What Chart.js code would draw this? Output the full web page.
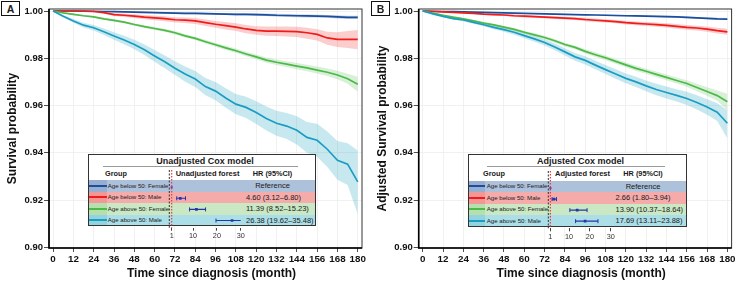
<!DOCTYPE html>
<html><head><meta charset="utf-8">
<script src="https://cdn.jsdelivr.net/npm/chart.js@4.4.1/dist/chart.umd.min.js"></script>
<style>
html,body{margin:0;padding:0;background:#fff;width:738px;height:281px;overflow:hidden;font-family:"Liberation Sans",Arial,sans-serif;}
canvas{position:absolute;display:block;}
.t{position:absolute;white-space:nowrap;line-height:1;color:#1a1a1a;}
</style></head><body>
<canvas id="kmA" width="369" height="281" style="left:0;top:0;width:369px;height:281px"></canvas>
<canvas id="kmB" width="369" height="281" style="left:370px;top:0;width:369px;height:281px"></canvas>
<div id="overlay"></div>
<script>
// ---------------- DATA ----------------
const months = [0,6,12,18,24,30,36,42,48,54,60,66,72,78,84,90,96,102,108,114,120,126,132,138,144,150,156,162,168,174,180];
const xTicks = [0,12,24,36,48,60,72,84,96,108,120,132,144,156,168,180];
const yTicks = [0.90,0.92,0.94,0.96,0.98,1.00];
const groups = ['Age below 50: Female','Age below 50: Male','Age above 50: Female','Age above 50: Male'];

// Panel A (unadjusted)
const aBlue   = [1.0000,1.0000,1.0000,1.0000,0.9999,0.9998,0.9997,0.9996,0.9995,0.9994,0.9993,0.9992,0.9991,0.9990,0.9990,0.9989,0.9988,0.9987,0.9986,0.9986,0.9985,0.9984,0.9982,0.9981,0.9980,0.9979,0.9978,0.9977,0.9975,0.9973,0.9973];
const aBlueUp = [1.0000,1.0000,1.0000,1.0000,1.0000,0.9999,0.9999,0.9998,0.9998,0.9997,0.9996,0.9996,0.9995,0.9994,0.9994,0.9993,0.9992,0.9991,0.9991,0.9991,0.9990,0.9989,0.9988,0.9987,0.9986,0.9985,0.9984,0.9983,0.9982,0.9980,0.9980];
const aBlueLo = [1.0000,1.0000,1.0000,0.9999,0.9998,0.9997,0.9995,0.9994,0.9992,0.9991,0.9990,0.9988,0.9987,0.9986,0.9986,0.9985,0.9984,0.9983,0.9981,0.9981,0.9980,0.9979,0.9976,0.9975,0.9974,0.9973,0.9972,0.9971,0.9968,0.9966,0.9966];
const aRed    = [1.0000,1.0000,1.0000,0.9999,0.9998,0.9993,0.9985,0.9982,0.9978,0.9974,0.9971,0.9968,0.9963,0.9961,0.9958,0.9951,0.9944,0.9938,0.9932,0.9924,0.9918,0.9915,0.9915,0.9914,0.9913,0.9908,0.9901,0.9886,0.9880,0.9880,0.9880];
const aRedUp  = [1.0000,1.0000,1.0000,1.0000,1.0000,0.9997,0.9991,0.9989,0.9986,0.9983,0.9980,0.9978,0.9974,0.9972,0.9970,0.9964,0.9958,0.9953,0.9948,0.9941,0.9936,0.9934,0.9934,0.9934,0.9933,0.9929,0.9923,0.9912,0.9910,0.9915,0.9920];
const aRedLo  = [1.0000,1.0000,0.9999,0.9997,0.9995,0.9989,0.9979,0.9975,0.9970,0.9965,0.9961,0.9957,0.9951,0.9949,0.9945,0.9937,0.9929,0.9922,0.9915,0.9906,0.9899,0.9895,0.9894,0.9892,0.9890,0.9883,0.9875,0.9857,0.9848,0.9843,0.9838];
const aGreen  = [1.0000,0.9992,0.9986,0.9980,0.9975,0.9967,0.9960,0.9953,0.9943,0.9934,0.9926,0.9918,0.9908,0.9895,0.9884,0.9870,0.9857,0.9844,0.9832,0.9818,0.9806,0.9792,0.9783,0.9775,0.9767,0.9759,0.9750,0.9741,0.9729,0.9713,0.9690];
const aGreenUp= [1.0000,0.9994,0.9989,0.9983,0.9979,0.9971,0.9965,0.9958,0.9948,0.9940,0.9932,0.9924,0.9915,0.9902,0.9891,0.9878,0.9865,0.9853,0.9841,0.9828,0.9816,0.9803,0.9795,0.9787,0.9780,0.9773,0.9765,0.9757,0.9747,0.9734,0.9722];
const aGreenLo= [1.0000,0.9990,0.9983,0.9977,0.9971,0.9963,0.9955,0.9948,0.9938,0.9928,0.9920,0.9912,0.9901,0.9888,0.9877,0.9862,0.9849,0.9835,0.9823,0.9808,0.9796,0.9781,0.9771,0.9763,0.9754,0.9745,0.9735,0.9725,0.9711,0.9692,0.9658];
const aCyan   = [1.0000,0.9978,0.9958,0.9940,0.9929,0.9912,0.9894,0.9877,0.9858,0.9836,0.9810,0.9785,0.9758,0.9733,0.9712,0.9680,0.9661,0.9632,0.9606,0.9592,0.9570,0.9545,0.9525,0.9513,0.9495,0.9465,0.9453,0.9415,0.9368,0.9352,0.9277];
const aCyanUp = [1.0000,0.9983,0.9966,0.9950,0.9941,0.9926,0.9910,0.9895,0.9878,0.9858,0.9835,0.9812,0.9787,0.9765,0.9746,0.9716,0.9700,0.9673,0.9649,0.9637,0.9618,0.9596,0.9578,0.9568,0.9555,0.9530,0.9523,0.9490,0.9450,0.9440,0.9410];
const aCyanLo = [1.0000,0.9973,0.9950,0.9930,0.9917,0.9898,0.9878,0.9859,0.9838,0.9814,0.9785,0.9758,0.9729,0.9701,0.9678,0.9644,0.9622,0.9591,0.9563,0.9547,0.9522,0.9494,0.9472,0.9458,0.9435,0.9400,0.9383,0.9340,0.9286,0.9264,0.9140];

// Panel B (adjusted)
const bBlue   = [1.0000,0.9999,0.9998,0.9997,0.9996,0.9995,0.9994,0.9993,0.9992,0.9991,0.9990,0.9989,0.9988,0.9987,0.9986,0.9985,0.9984,0.9983,0.9982,0.9981,0.9980,0.9979,0.9978,0.9977,0.9976,0.9975,0.9973,0.9971,0.9969,0.9967,0.9966];
const bBlueUp = [1.0000,1.0000,0.9999,0.9998,0.9997,0.9996,0.9995,0.9994,0.9993,0.9993,0.9992,0.9991,0.9990,0.9989,0.9988,0.9987,0.9986,0.9985,0.9985,0.9984,0.9983,0.9982,0.9981,0.9980,0.9980,0.9979,0.9977,0.9975,0.9973,0.9971,0.9970];
const bBlueLo = [1.0000,0.9998,0.9997,0.9996,0.9995,0.9994,0.9993,0.9992,0.9991,0.9989,0.9988,0.9987,0.9986,0.9985,0.9984,0.9983,0.9982,0.9981,0.9979,0.9978,0.9977,0.9976,0.9975,0.9974,0.9972,0.9971,0.9969,0.9967,0.9965,0.9963,0.9962];
const bRed    = [1.0000,0.9998,0.9996,0.9994,0.9992,0.9990,0.9987,0.9985,0.9983,0.9980,0.9978,0.9976,0.9974,0.9972,0.9970,0.9968,0.9964,0.9961,0.9958,0.9955,0.9951,0.9948,0.9945,0.9942,0.9939,0.9935,0.9931,0.9928,0.9923,0.9917,0.9912];
const bRedUp  = [1.0000,0.9999,0.9998,0.9996,0.9995,0.9993,0.9991,0.9989,0.9987,0.9985,0.9983,0.9981,0.9979,0.9978,0.9976,0.9974,0.9971,0.9968,0.9965,0.9962,0.9959,0.9956,0.9953,0.9951,0.9948,0.9945,0.9941,0.9938,0.9934,0.9929,0.9925];
const bRedLo  = [1.0000,0.9997,0.9994,0.9992,0.9989,0.9987,0.9983,0.9981,0.9979,0.9975,0.9973,0.9971,0.9969,0.9966,0.9964,0.9962,0.9957,0.9954,0.9951,0.9948,0.9943,0.9940,0.9937,0.9933,0.9930,0.9925,0.9921,0.9918,0.9912,0.9905,0.9899];
const bGreen  = [1.0000,0.9991,0.9982,0.9974,0.9967,0.9958,0.9949,0.9941,0.9932,0.9922,0.9910,0.9899,0.9888,0.9874,0.9858,0.9846,0.9829,0.9815,0.9802,0.9787,0.9772,0.9757,0.9745,0.9732,0.9719,0.9706,0.9693,0.9676,0.9659,0.9642,0.9616];
const bGreenUp= [1.0000,0.9992,0.9984,0.9977,0.9970,0.9962,0.9953,0.9946,0.9937,0.9928,0.9916,0.9906,0.9895,0.9882,0.9866,0.9854,0.9838,0.9825,0.9812,0.9797,0.9782,0.9768,0.9756,0.9744,0.9731,0.9719,0.9707,0.9692,0.9677,0.9664,0.9650];
const bGreenLo= [1.0000,0.9990,0.9980,0.9971,0.9964,0.9954,0.9945,0.9936,0.9927,0.9916,0.9904,0.9892,0.9881,0.9866,0.9850,0.9838,0.9820,0.9805,0.9792,0.9777,0.9762,0.9746,0.9734,0.9720,0.9707,0.9693,0.9679,0.9660,0.9641,0.9620,0.9580];
const bCyan   = [1.0000,0.9988,0.9977,0.9968,0.9962,0.9952,0.9942,0.9931,0.9921,0.9910,0.9896,0.9882,0.9867,0.9848,0.9827,0.9806,0.9791,0.9771,0.9752,0.9733,0.9715,0.9700,0.9683,0.9668,0.9655,0.9643,0.9630,0.9613,0.9594,0.9572,0.9525];
const bCyanUp = [1.0000,0.9990,0.9980,0.9972,0.9967,0.9958,0.9949,0.9939,0.9930,0.9920,0.9907,0.9894,0.9880,0.9862,0.9842,0.9822,0.9808,0.9789,0.9771,0.9753,0.9736,0.9722,0.9706,0.9692,0.9680,0.9669,0.9658,0.9643,0.9627,0.9610,0.9580];
const bCyanLo = [1.0000,0.9986,0.9974,0.9964,0.9957,0.9946,0.9935,0.9923,0.9912,0.9900,0.9885,0.9870,0.9854,0.9834,0.9812,0.9790,0.9774,0.9753,0.9733,0.9713,0.9694,0.9678,0.9660,0.9644,0.9630,0.9617,0.9602,0.9583,0.9561,0.9534,0.9460];

// Cox model hazard ratios
const hrA = [1, 4.60, 11.39, 26.38];
const loA = [null, 3.12, 8.52, 19.62];
const hiA = [null, 6.80, 15.23, 35.48];
const hrB = [1, 2.66, 13.90, 17.69];
const loB = [null, 1.80, 10.37, 13.11];
const hiB = [null, 3.94, 18.64, 23.88];
const forestTicks = [1, 10, 20, 30];

// ---------------- STYLE ----------------
const FONT = '"Liberation Sans", Arial, sans-serif';
Chart.defaults.font.family = FONT;
const LINE = ['#1b4f9e', '#f01c1c', '#4cb948', '#1a9dc2'];
const BAND = ['rgba(27,79,158,0.25)', 'rgba(240,28,28,0.22)', 'rgba(76,185,72,0.22)', 'rgba(26,157,194,0.24)'];
const ROWBG = ['#adc1da', '#f6abab', '#c9e8c3', '#abdee7'];
const KEYBG = ['#97aed0', '#f29696', '#b6dfae', '#92d3df'];
const NAVY = '#2536a8';

const framePlugin = {
  id: 'frame',
  afterDatasetsDraw(chart) {
    const a = chart.chartArea, c = chart.ctx;
    c.save();
    c.strokeStyle = '#333'; c.lineWidth = 1;
    c.strokeRect(a.left, a.top, a.right - a.left, a.bottom - a.top);
    c.strokeStyle = '#000'; c.lineWidth = 1.6;
    c.beginPath(); c.moveTo(a.left, a.top); c.lineTo(a.left, a.bottom); c.lineTo(a.right, a.bottom); c.stroke();
    c.restore();
  }
};

function makeKM(id, yTitle, sets, yAxisW, padRight) {
  const ds = [];
  sets.forEach((s, k) => {
    ds.push({data: months.map((m, i) => ({x: m, y: s.up[i]})), borderWidth: 0, pointRadius: 0, fill: false, order: 20 + k});
    ds.push({data: months.map((m, i) => ({x: m, y: s.lo[i]})), borderWidth: 0, pointRadius: 0, fill: '-1', backgroundColor: BAND[k], order: 20 + k});
  });
  sets.forEach((s, k) => {
    ds.push({data: months.map((m, i) => ({x: m, y: s.v[i]})), borderColor: LINE[k], borderWidth: 1.7, pointRadius: 0, fill: false, order: 4 - k});
  });
  return new Chart(document.getElementById(id), {
    type: 'line',
    data: {datasets: ds},
    plugins: [framePlugin],
    options: {
      responsive: false, animation: false, devicePixelRatio: 1,
      layout: {padding: {left: 0, top: 9, right: padRight, bottom: 0}},
      plugins: {legend: {display: false}, tooltip: {enabled: false}},
      scales: {
        x: {
          type: 'linear', min: -2.4, max: 182.5,
          afterBuildTicks: sc => { sc.ticks = xTicks.map(v => ({value: v})); },
          afterFit: sc => { sc.height = 33; sc.paddingLeft = 0; sc.paddingRight = 0; },
          ticks: {autoSkip: false, maxRotation: 0, padding: 1, color: '#111', font: {size: 9.8, weight: 'bold'}},
          grid: {color: '#eeeeee', lineWidth: 0.8, tickColor: '#222', tickLength: 4},
          border: {display: false},
          title: {display: true, text: '\u2002\u2002Time since diagnosis (month)', color: '#111', font: {size: 12, weight: 'bold'}, padding: {top: 0, bottom: 0}}
        },
        y: {
          type: 'linear', min: 0.8997, max: 1.00085,
          afterBuildTicks: sc => { sc.ticks = yTicks.map(v => ({value: v})); },
          afterFit: sc => { sc.width = yAxisW; sc.paddingTop = 0; sc.paddingBottom = 0; },
          ticks: {padding: 1, color: '#111', font: {size: 9.5, weight: 'bold'}, callback: v => v.toFixed(2)},
          grid: {color: '#eeeeee', lineWidth: 0.8, tickColor: '#222', tickLength: 5},
          border: {display: false},
          title: {display: true, text: yTitle, color: '#111', font: {size: 12, weight: 'bold'}, padding: {top: 5, bottom: 0}}
        }
      }
    }
  });
}

makeKM('kmA', 'Survival probability', [
  {v: aBlue, up: aBlueUp, lo: aBlueLo}, {v: aRed, up: aRedUp, lo: aRedLo},
  {v: aGreen, up: aGreenUp, lo: aGreenLo}, {v: aCyan, up: aCyanUp, lo: aCyanLo}], 49, 7);
makeKM('kmB', 'Adjusted Survival probability', [
  {v: bBlue, up: bBlueUp, lo: bBlueLo}, {v: bRed, up: bRedUp, lo: bRedLo},
  {v: bGreen, up: bGreenUp, lo: bGreenLo}, {v: bCyan, up: bCyanUp, lo: bCyanLo}], 48.7, 7.4);

// ---------------- INSETS ----------------
const ov = document.getElementById('overlay');
function box(x, y, w, h, css) {
  const d = document.createElement('div');
  d.style.cssText = `position:absolute;left:${x}px;top:${y}px;width:${w}px;height:${h}px;box-sizing:border-box;` + (css || '');
  ov.appendChild(d); return d;
}
function text(str, x, yc, size, weight, align) {
  const d = document.createElement('div');
  d.className = 't'; d.textContent = str;
  d.style.left = x + 'px'; d.style.top = yc + 'px';
  d.style.fontSize = size + 'px'; d.style.fontWeight = weight;
  d.style.transform = align === 'center' ? 'translate(-50%,-50%)' : 'translate(0,-50%)';
  ov.appendChild(d); return d;
}
const fmt = (h, l, u) => l == null ? 'Reference' : `${h.toFixed(2)} (${l.toFixed(2)}\u2013${u.toFixed(2)})`;

function panelLabel(letter, x) {
  box(x, 1, 19, 15, 'border:1.3px solid #111;background:#fff;');
  text(letter, x + 9.5, 8.6, 10.5, 'bold', 'center');
}
panelLabel('A', 1); panelLabel('B', 371);

function inset(g, hr, lo, hi) {
  const {l, t, r, b} = g.box;
  box(l, t, r - l, b - t, 'background:#fff;');
  for (let i = 0; i < groups.length; i++) {
    const y = g.rowTop + i * g.rowH;
    box(l, y, r - l, g.rowH + 0.3, `background:${ROWBG[i]};`);
    box(l, y, g.keyR - l, g.rowH + 0.3, `background:${KEYBG[i]};`);
    box(l + 1, y + g.rowH / 2 - 1, g.keyR - l - 1, 2, `background:${LINE[i]};`);
    text(groups[i], g.labelX, y + g.rowH / 2, 6.1, 'normal', 'left');
    if (lo[i] == null) text(fmt(hr[i], lo[i], hi[i]), g.refX, y + g.rowH / 2 + 0.3, 7.5, 'normal', 'center');
    else text(fmt(hr[i], lo[i], hi[i]), g.hrX, y + g.rowH / 2 + 0.3, 7.5, 'normal', 'left');
  }
  box(l, t, r - l, b - t, 'border:1.4px solid #333;');
  text(g.title, g.titleX, 161, 9, 'bold', 'center');
  box(g.ulL, 166, g.ulR - g.ulL, 1, 'background:#9a9a9a;');
  text('Group', g.groupX, 173.5, 7.3, 'bold', 'left');
  text(g.forestTitle, g.forestHX, 173.8, 7.5, 'bold', 'left');
  text('HR (95%CI)', g.hrHX, 173.8, 7.3, 'bold', 'center');
}

const geoA = {box: {l: 88.3, t: 154.3, r: 316, b: 226.3}, rowTop: 180, rowH: 11.5, titleX: 205, ulL: 103, ulR: 298,
  groupX: 105, forestHX: 175.7, hrHX: 272.5, keyR: 106.7, labelX: 107.8, hrX: 246, refX: 272.5,
  f0: 169.3, f30: 240.7, title: 'Unadjusted Cox model', forestTitle: 'Unadjusted forest'};
const geoB = {box: {l: 468.3, t: 154.3, r: 687.3, b: 226.7}, rowTop: 180.6, rowH: 11.5, titleX: 580.5, ulL: 486.7, ulR: 665,
  groupX: 483, forestHX: 555, hrHX: 643, keyR: 485, labelX: 486.8, hrX: 615.5, refX: 643,
  f0: 548.3, f30: 610.7, title: 'Adjusted Cox model', forestTitle: 'Adjusted forest'};

inset(geoA, hrA, loA, hiA);
inset(geoB, hrB, loB, hiB);

// ---------------- FOREST PLOTS ----------------
function forest(g, hr, lo, hi) {
  const Y0 = -1.05, Y1 = 4.15, AXH = 14;
  const areaTop = g.rowTop + Y0 * g.rowH, areaBot = g.rowTop + Y1 * g.rowH;
  const cl = Math.floor(g.f0) - 10, cw = Math.ceil(g.f30) + 10 - cl;
  const ct = Math.floor(areaTop) - 2, ch = Math.ceil(areaBot + AXH + 2) - ct;
  const cv = document.createElement('canvas');
  cv.width = cw; cv.height = ch;
  cv.style.cssText = `left:${cl}px;top:${ct}px;width:${cw}px;height:${ch}px;`;
  document.body.appendChild(cv);
  const ds = [
    {data: [{x: 0, y: Y0}, {x: 0, y: Y1}], borderColor: '#333', borderWidth: 1, borderDash: [2, 1.5], pointRadius: 0, clip: 4},
    {data: [{x: 1, y: Y0}, {x: 1, y: Y1}], borderColor: '#ee3a3a', borderWidth: 1.2, borderDash: [1.5, 1.5], pointRadius: 0, clip: 4}
  ];
  hr.forEach((h, i) => {
    if (lo[i] != null) ds.push({data: [{x: lo[i], y: i + 0.5}, {x: hi[i], y: i + 0.5}], borderColor: NAVY, borderWidth: 1.1,
      pointStyle: 'line', rotation: 90, pointRadius: 2, pointBorderColor: NAVY, pointBorderWidth: 1});
  });
  ds.push({data: hr.map((h, i) => ({x: h, y: i + 0.5})), showLine: false, pointStyle: 'rect',
    pointRadius: hr.map((h, i) => lo[i] == null ? 1.5 : 1.9), pointBackgroundColor: hr.map((h, i) => lo[i] == null ? '#6b3fb8' : NAVY),
    pointBorderWidth: 0, clip: 4});
  new Chart(cv, {
    type: 'line',
    data: {datasets: ds},
    options: {
      responsive: false, animation: false, devicePixelRatio: 1,
      layout: {padding: {left: g.f0 - cl, right: cw - (g.f30 - cl), top: areaTop - ct, bottom: ch - (areaBot - ct) - AXH}},
      plugins: {legend: {display: false}, tooltip: {enabled: false}},
      scales: {
        x: {type: 'linear', min: 0, max: 30,
          afterBuildTicks: sc => { sc.ticks = forestTicks.map(v => ({value: v})); },
          afterFit: sc => { sc.height = AXH; sc.paddingLeft = 0; sc.paddingRight = 0; },
          ticks: {autoSkip: false, maxRotation: 0, padding: 1, color: '#333', font: {size: 7.3}},
          grid: {drawOnChartArea: false, tickColor: '#444', tickLength: 3},
          border: {display: false}},
        y: {type: 'linear', min: Y0, max: Y1, reverse: true, display: false}
      }
    }
  });
}
forest(geoA, hrA, loA, hiA);
forest(geoB, hrB, loB, hiB);
</script>
</body></html>
